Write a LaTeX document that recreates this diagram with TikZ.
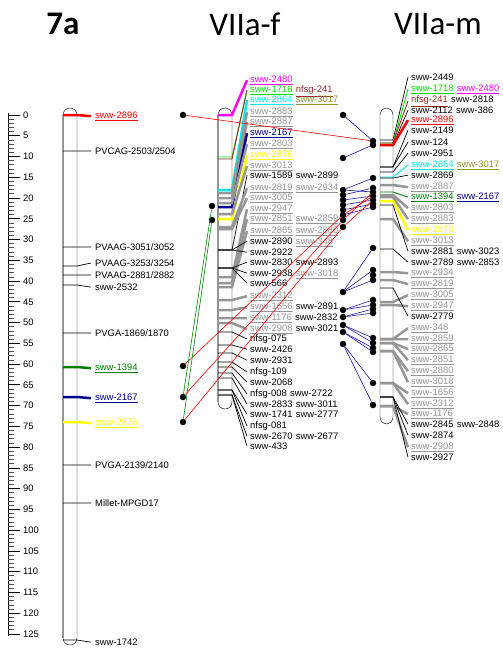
\documentclass[tikz,border=0pt]{standalone}
\usepackage{fontspec}
\setmainfont{Liberation Sans}
\newfontfamily\titlefont{Carlito}
\usetikzlibrary{positioning, calc}
\definecolor{cmag}{RGB}{255,0,255}
\definecolor{clime}{RGB}{0,225,0}
\definecolor{cgreen}{RGB}{0,128,0}
\definecolor{cbrown}{RGB}{150,40,40}
\definecolor{ccyan}{RGB}{0,235,235}
\definecolor{colive}{RGB}{150,150,40}
\definecolor{cnavy}{RGB}{0,0,140}
\definecolor{cyel}{RGB}{255,255,0}
\definecolor{cred}{RGB}{255,0,0}
\definecolor{cgris}{RGB}{150,150,150}
\definecolor{clink}{RGB}{25,25,160}
\newcommand{\ul}[1]{\underline{#1}}

\begin{document}
\begin{tikzpicture}[x=1pt, y=-1pt,
    chrom/.style={draw, fill=white, rounded corners=7pt, minimum width=14pt, inner sep=0pt},
    mk/.style={anchor=base west, inner sep=0pt, font=\fontsize{9.4}{11}\selectfont},
    dot/.style={circle, fill=black, inner sep=0pt, minimum size=6.5pt},
    title/.style={font=\titlefont\fontsize{33}{36}\selectfont},
    link/.style={clink, line width=0.6pt},
    redlink/.style={cred, line width=0.6pt},
    greenlink/.style={cgreen, line width=0.6pt}]
  \useasboundingbox (0,0) rectangle (503,648);

  % --- titles ---
  \node[title] (t7a) at (63,24) {\bfseries 7a};
  \node[title] (tf) at (245,24) {VIIa-f};
  \node[title] (tm) at (438,24) {VIIa-m};

  % --- ruler (cM) ---
  \draw[line width=0.8pt] (8,113) -- (8,636);
  \foreach \c in {0,...,125}
    \draw[black!70, line width=0.8pt] (8,115+4.152*\c) -- (14,115+4.152*\c);
  \foreach \c in {0,5,...,125} {
    \draw[line width=0.8pt] (8,115+4.152*\c) -- (20,115+4.152*\c);
    \node[mk, anchor=west] (r\c) at (23,115+4.152*\c) {\c};
  }

  % --- chromosomes ---
  \node[chrom, minimum height=537pt] (c7a) at (70,376.5) {};
  \draw[cgris, line width=2.5pt] ([yshift=-7pt]c7a.north west) -- ([yshift=7pt]c7a.south west);
  \node[chrom, minimum height=301pt] (cf) at (225,258.5) {};
  \draw[cgris, line width=2.5pt] ([yshift=-7pt]cf.north west) -- ([yshift=7pt]cf.south west);
  \node[chrom, minimum width=13pt, minimum height=316pt] (cm) at (386.5,266) {};

  % --- 7a markers ---
  \foreach \ly/\by/\cc/\lw/\tx [count=\i] in {
      115/115/cred/2.5pt/{\ul{sww-2896}},
      151/151/black/0.7pt/{PVCAG-2503/2504},
      247/247/black/0.7pt/{PVAAG-3051/3052},
      263/266/black/0.7pt/{PVAAG-3253/3254},
      275/275/black/0.7pt/{PVAAG-2881/2882},
      287/285/black/0.7pt/{sww-2532},
      333/333/black/0.7pt/{PVGA-1869/1870},
      367/367/cgreen/2.5pt/{\ul{sww-1394}},
      397/397/cnavy/2.5pt/{\ul{sww-2167}},
      422/422/cyel/2.5pt/{\ul{sww-2876}},
      465/465/black/0.7pt/{PVGA-2139/2140},
      503/503/black/0.7pt/{Millet-MPGD17},
      642/640/black/0.7pt/{sww-1742}} {
    \node[mk, text=\cc] (p\i) at (95,\ly+3.4) {\tx};
    \draw[\cc, line width=\lw] (63,\by) -- (77,\by) -- ([xshift=-4pt]p\i.west);
  }

  % --- VIIa-f markers ---
  \foreach \ly/\by/\cc/\lw/\tx [count=\i] in {
      79/115/cmag/2.5pt/{\ul{sww-2480}},
      89/157/clime/0.9pt/{\ul{sww-1718}},
      99/190/ccyan/2.5pt/{\ul{sww-2864}},
      111/193/cgris/2.5pt/{\ul{sww-2883}},
      121/198/cgris/2.5pt/{\ul{sww-2887}},
      132/207/cnavy/2.5pt/{\ul{sww-2167}},
      143/203/cgris/2.5pt/{\ul{sww-2803}},
      154/219/cyel/2.5pt/{\ul{sww-2876}},
      165/214/cgris/2.5pt/{\ul{sww-3013}},
      175/250/black/0.7pt/{sww-1589},
      187/227/cgris/2.5pt/{\ul{sww-2819}},
      197/229/cgris/2.5pt/{\ul{sww-3005}},
      208/277/cgris/2.5pt/{\ul{sww-2947}},
      218/283/cgris/2.5pt/{\ul{sww-2851}},
      230/287/cgris/2.5pt/{\ul{sww-2865}},
      241/250/black/0.7pt/{sww-2890},
      252/250/black/0.7pt/{sww-2922},
      262/268/black/0.7pt/{sww-2830},
      273/268/black/0.7pt/{sww-2938},
      283/268/black/0.7pt/{sww-566},
      295/300/cgris/2.5pt/{\ul{sww-2312}},
      306/310/cgris/2.5pt/{\ul{sww-1656}},
      317/318/cgris/2.5pt/{\ul{sww-1176}},
      328/323/cgris/2.5pt/{\ul{sww-2908}},
      338/332/black/0.7pt/{nfsg-075},
      349/345/black/0.7pt/{sww-2426},
      360/353/black/0.7pt/{sww-2931},
      371/362/black/0.7pt/{nfsg-109},
      382/367/black/0.7pt/{sww-2068},
      393/373/black/0.7pt/{nfsg-008},
      404/378/black/0.7pt/{sww-2833},
      414/390/black/0.7pt/{sww-1741},
      425/390/black/0.7pt/{nfsg-081},
      436/395/black/0.7pt/{sww-2670},
      446/395/black/0.7pt/{sww-433}} {
    \node[mk, text=\cc] (f\i) at (250,\ly+3.4) {\tx};
    \draw[\cc, line width=\lw] (218,\by) -- (232,\by) -- ([xshift=-3pt]f\i.west);
  }
  \draw[cbrown, line width=0.9pt] (218,159) -- (232,159) -- ([xshift=-3pt]f2.west);
  \foreach \j/\cc/\tx in {2/cbrown/{\ul{nfsg-241}}, 3/colive/{\ul{sww-3017}},
      10/black/{sww-2899}, 11/cgris/{\ul{sww-2934}}, 14/cgris/{\ul{sww-2859}},
      15/cgris/{\ul{sww-2880}}, 16/cgris/{\ul{sww-348}}, 18/black/{sww-2893},
      19/cgris/{\ul{sww-3018}}, 22/black/{sww-2891}, 23/black/{sww-2832},
      24/black/{sww-3021}, 30/black/{sww-2722}, 31/black/{sww-3011},
      32/black/{sww-2777}, 34/black/{sww-2677}}
    \node[mk, text=\cc] (f\j b) at ([xshift=3pt]f\j.base east) {\tx};

  % --- VIIa-m markers ---
  \foreach \ly/\by/\cc/\lw/\tx [count=\i] in {
      77/140/black/0.7pt/{sww-2449},
      88/143/clime/0.9pt/{\ul{sww-1718}},
      99/143/cbrown/0.9pt/{\ul{nfsg-241}},
      110/145/black/0.7pt/{sww-2112},
      119/145/cred/2.5pt/{\ul{sww-2896}},
      130/167/black/0.7pt/{sww-2149},
      142/167/black/0.7pt/{sww-124},
      153/172/black/0.7pt/{sww-2951},
      164/177/ccyan/0.9pt/{\ul{sww-2864}},
      175/178/black/0.7pt/{sww-2869},
      186/185/cgris/2.5pt/{\ul{sww-2887}},
      196/192/cgreen/0.9pt/{\ul{sww-1394}},
      207/195/cgris/2.5pt/{\ul{sww-2803}},
      218/197/cgris/2.5pt/{\ul{sww-2883}},
      229/201/cyel/2.5pt/{\ul{sww-2876}},
      240/219/cgris/2.5pt/{\ul{sww-3013}},
      251/205/black/0.7pt/{sww-2881},
      262/249/black/0.7pt/{sww-2789},
      272/272/cgris/2.5pt/{\ul{sww-2934}},
      283/280/cgris/2.5pt/{\ul{sww-2819}},
      294/302/cgris/2.5pt/{\ul{sww-3005}},
      305/305/cgris/2.5pt/{\ul{sww-2947}},
      316/288/black/0.7pt/{sww-2779},
      327/339/cgris/2.5pt/{\ul{sww-348}},
      338/339/cgris/2.5pt/{\ul{sww-2859}},
      348/343/cgris/2.5pt/{\ul{sww-2865}},
      359/343/cgris/2.5pt/{\ul{sww-2851}},
      370/351/cgris/2.5pt/{\ul{sww-2880}},
      381/351/cgris/2.5pt/{\ul{sww-3018}},
      392/383/cgris/2.5pt/{\ul{sww-1656}},
      403/383/cgris/2.5pt/{\ul{sww-2312}},
      413/406/cgris/2.5pt/{\ul{sww-1176}},
      424/397/black/0.7pt/{sww-2845},
      435/397/black/0.7pt/{sww-2874},
      446/406/cgris/2.5pt/{\ul{sww-2908}},
      457/397/black/0.7pt/{sww-2927}} {
    \node[mk, text=\cc] (m\i) at (411,\ly+3.4) {\tx};
    \draw[\cc, line width=\lw] (380,\by) -- (393,\by) -- ([xshift=-3pt]m\i.west);
  }
  \foreach \j/\cc/\tx in {2/cmag/{\ul{sww-2480}}, 3/black/{sww-2818},
      4/black/{sww-386}, 9/colive/{\ul{sww-3017}}, 12/cnavy/{\ul{sww-2167}},
      17/black/{sww-3023}, 18/black/{sww-2853}, 33/black/{sww-2848}}
    \node[mk, text=\cc] (m\j b) at ([xshift=3pt]m\j.base east) {\tx};

  % --- dots ---
  \foreach \y in {115,366,397,422} \node[dot] (l\y) at (183,\y) {};
  \foreach \y in {206,220} \node[dot] (g\y) at (212,\y) {};
  \foreach \y in {115,158,190,195,200,205,210,215,220,227,292,310,317,325,332,344}
    \node[dot] (a\y) at (343,\y) {};
  \foreach \y in {141,145,178,188,192,196,200,204,207,248,270,275,280,300,305,309,313,338,343,348,352,383,405}
    \node[dot] (b\y) at (373,\y) {};

  % --- links ---
  \foreach \s/\t in {115/141, 158/145, 190/178, 190/192, 195/188, 200/196, 205/200,
      210/204, 215/207, 292/248, 292/270, 292/280, 310/300, 310/305, 317/309,
      317/313, 325/338, 325/343, 332/348, 332/352, 344/383, 344/405}
    \draw[link] (a\s) -- (b\t);
  \draw[redlink] (l115) -- (b141);
  \draw[redlink] (l366) -- (a215) -- (b196);
  \draw[redlink] (l397) -- (a220) -- (b192);
  \draw[redlink] (l422) -- (a227) -- (b200);
  \draw[greenlink] (l397) -- (g206);
  \draw[greenlink] (l422) -- (g220);
\end{tikzpicture}
\end{document}
